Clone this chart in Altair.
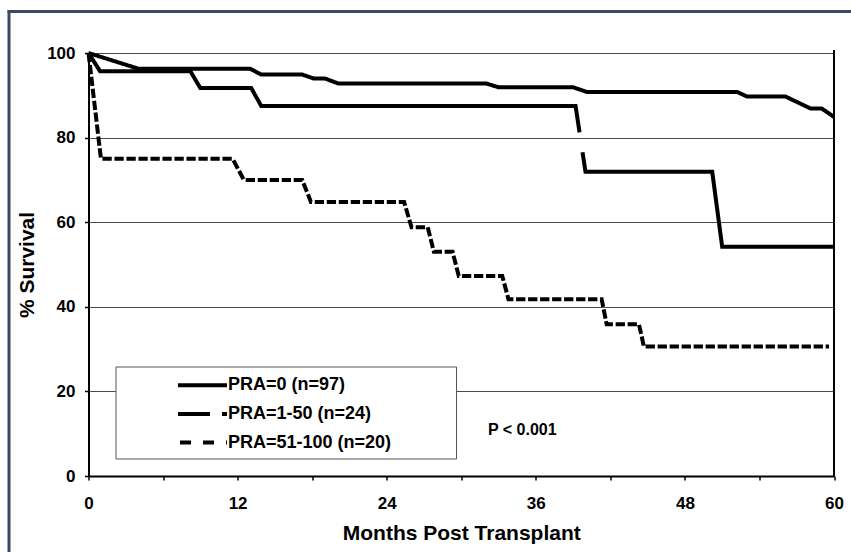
import altair as alt
import pandas as pd

# Survival curves by PRA group: month of each step and % surviving
pra0_months = [0, 4.0, 13.0, 13.9, 17.2, 18.1, 19.0, 20.1, 32.0, 33.0, 39.0, 40.1, 52.2, 53.0, 56.1, 58.1, 59.0, 60]
pra0_surv = [100, 96.3, 96.3, 94.9, 94.9, 94.0, 94.0, 92.8, 92.8, 91.9, 91.9, 90.8, 90.8, 89.7, 89.7, 86.9, 86.9, 84.9]

pra1_months = [0, 0.93, 8.2, 9.0, 13.1, 13.9, 39.2, 40.0, 50.2, 51.0, 60]
pra1_surv = [100, 95.7, 95.7, 91.7, 91.7, 87.5, 87.5, 71.9, 71.9, 54.2, 54.2]

pra51_months = [0, 1.0, 11.6, 12.5, 17.2, 17.9, 25.4, 26.0, 27.3, 27.8, 29.3, 29.8,
                33.3, 33.8, 41.3, 41.7, 44.3, 44.7, 59.6]
pra51_surv = [100, 75, 75, 70, 70, 64.8, 64.8, 58.8, 58.8, 53, 53, 47.3,
              47.3, 41.8, 41.8, 35.9, 35.9, 30.6, 30.6]

groups = ["PRA=0 (n=97)", "PRA=1-50 (n=24)", "PRA=51-100 (n=20)"]
x_ticks = list(range(0, 61, 6))
y_ticks = [0, 20, 40, 60, 80, 100]
p_text = "P < 0.001"

FONT = "Liberation Sans"
W, H = 745.5, 423
PAD = {"left": 88.5, "top": 53, "right": 17, "bottom": 76}

rows = []
for name, ms, ss in zip(groups, [pra0_months, pra1_months, pra51_months],
                        [pra0_surv, pra1_surv, pra51_surv]):
    for i, (m, s) in enumerate(zip(ms, ss)):
        rows.append({"group": name, "month": m, "surv": s, "step": i})
df = pd.DataFrame(rows)

line_dashes = [[1, 0], [544, 20], [9.3, 2.7]]

curves = alt.Chart(df).mark_line(
    color="black", strokeWidth=4, strokeCap="butt", strokeJoin="miter"
).encode(
    x=alt.X(
        "month:Q",
        scale=alt.Scale(domain=[0, 60], nice=False),
        axis=alt.Axis(
            values=x_ticks,
            labelExpr="datum.value % 12 == 0 ? datum.label : ''",
            title="Months Post Transplant",
            grid=False,
            tickSize=4,
            labelPadding=15,
            titlePadding=11,
            labelFlush=False,
        ),
    ),
    y=alt.Y(
        "surv:Q",
        scale=alt.Scale(domain=[0, 100], nice=False),
        axis=alt.Axis(
            values=y_ticks,
            title="% Survival",
            grid=True,
            tickSize=4,
            labelPadding=9.5,
            titlePadding=9,
            labelFlush=False,
        ),
    ),
    detail="group:N",
    order="step:Q",
    strokeDash=alt.StrokeDash(
        "group:N", scale=alt.Scale(domain=groups, range=line_dashes), legend=None
    ),
)

one = pd.DataFrame({"k": [0]})

# right-hand frame of the plot
right_edge = alt.Chart(one).mark_rule(color="black", strokeWidth=2).encode(
    x=alt.datum(60), y=alt.value(-3), y2=alt.value(H)
)

# outer border (left and top edges)
border_left = alt.Chart(one).mark_rule(color="#3b4963", strokeWidth=3).encode(
    x=alt.value(-79.5), y=alt.value(-42.5), y2=alt.value(H + PAD["bottom"] + 5)
)
border_top = alt.Chart(one).mark_rule(color="#3b4963", strokeWidth=3).encode(
    x=alt.value(-81), x2=alt.value(W + PAD["right"] + 5), y=alt.value(-41.5)
)

# legend box with line samples and labels
box = alt.Chart(one).mark_rect(fill="white", stroke="#555555", strokeWidth=1).encode(
    x=alt.value(27.5), x2=alt.value(368), y=alt.value(314), y2=alt.value(406)
)
legend_layers = [box]
sample_dashes = [[1, 0], [32, 12], [11, 12]]
sample_x0 = [89.5, 89.5, 91.5]
for i, (name, dash) in enumerate(zip(groups, sample_dashes)):
    ly = 332.3 + i * 28.6
    entry = pd.DataFrame({"label": [name]})
    legend_layers.append(
        alt.Chart(entry).mark_rule(
            color="black", strokeWidth=4, strokeDash=dash, strokeCap="butt"
        ).encode(x=alt.value(sample_x0[i]), x2=alt.value(138.5), y=alt.value(ly))
    )
    legend_layers.append(
        alt.Chart(entry).mark_text(
            align="left", baseline="middle", font=FONT, fontSize=18,
            fontWeight="bold", color="black"
        ).encode(text="label:N", x=alt.value(139.5), y=alt.value(ly))
    )

p_label = alt.Chart(pd.DataFrame({"t": [p_text]})).mark_text(
    align="left", baseline="middle", font=FONT, fontSize=16,
    fontWeight="bold", color="black"
).encode(text="t:N", x=alt.value(399.5), y=alt.value(377))

chart = alt.layer(
    curves, right_edge, border_left, border_top, *legend_layers, p_label
).properties(
    width=W,
    height=H,
    padding=PAD,
    autosize=alt.AutoSizeParams(type="none"),
    background="white",
).configure_view(
    stroke=None
).configure_axis(
    labelFont=FONT,
    labelFontSize=17,
    labelFontWeight="bold",
    labelColor="black",
    titleFont=FONT,
    titleFontSize=21,
    titleFontWeight="bold",
    titleColor="black",
    domainColor="black",
    domainWidth=2,
    tickColor="black",
    tickWidth=1.5,
    gridColor="#4a4a4a",
    gridWidth=1,
    gridOpacity=1,
)

chart.save("out.html", embed_options={"renderer": "svg", "actions": False})
